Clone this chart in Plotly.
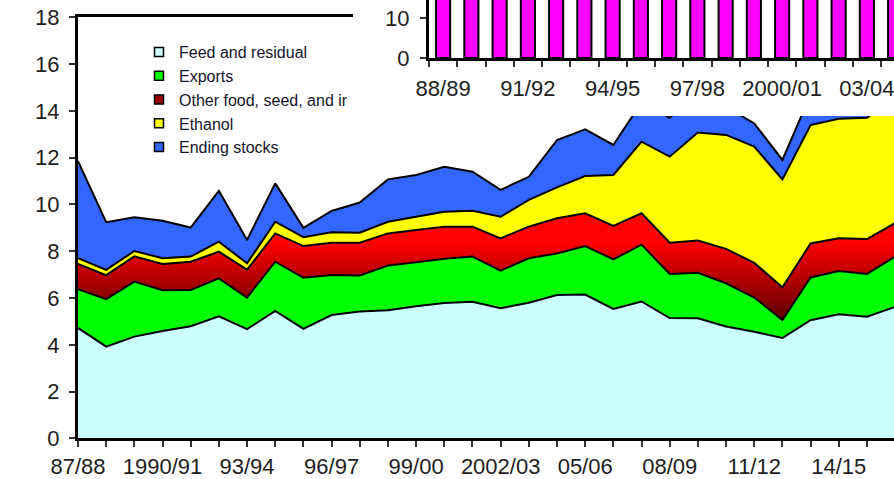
import plotly.graph_objects as go

W, H = 894, 479

# ---------------- data (billion bushels) ----------------
years = ["87/88", "88/89", "89/90", "1990/91", "91/92", "92/93", "93/94", "94/95",
         "95/96", "96/97", "97/98", "98/99", "99/00", "2000/01", "01/02", "2002/03",
         "03/04", "04/05", "05/06", "06/07", "07/08", "08/09", "09/10", "10/11",
         "11/12", "12/13", "13/14", "14/15", "15/16", "16/17"]
tick_labels = ["87/88", "1990/91", "93/94", "96/97", "99/00", "2002/03",
               "05/06", "08/09", "11/12", "14/15"]

feed = [4.72, 3.92, 4.35, 4.59, 4.79, 5.22, 4.67, 5.45, 4.68, 5.27,
        5.42, 5.48, 5.65, 5.79, 5.84, 5.56, 5.80, 6.13, 6.15, 5.53,
        5.85, 5.14, 5.13, 4.78, 4.56, 4.29, 5.05, 5.31, 5.20, 5.62]
exports = [1.66, 2.03, 2.35, 1.74, 1.55, 1.62, 1.35, 2.10, 2.19, 1.71,
           1.54, 1.91, 1.88, 1.89, 1.93, 1.61, 1.90, 1.77, 2.07, 2.12,
           2.43, 1.89, 1.95, 1.85, 1.46, 0.77, 1.83, 1.84, 1.83, 2.15]
other_fsi = [1.08, 1.03, 1.08, 1.12, 1.21, 1.14, 1.19, 1.21, 1.35, 1.38,
             1.40, 1.37, 1.38, 1.37, 1.28, 1.38, 1.35, 1.51, 1.40, 1.43,
             1.34, 1.33, 1.38, 1.47, 1.48, 1.40, 1.45, 1.40, 1.49, 1.43]
ethanol = [0.24, 0.22, 0.23, 0.25, 0.22, 0.43, 0.27, 0.50, 0.38, 0.45,
           0.43, 0.50, 0.56, 0.64, 0.68, 0.92, 1.14, 1.32, 1.59, 2.18,
           3.06, 3.68, 4.61, 4.87, 4.97, 4.61, 5.06, 5.11, 5.18, 5.40]
ending_stocks = [4.15, 2.04, 1.44, 1.60, 1.24, 2.17, 1.00, 1.64, 0.40, 0.91,
                 1.29, 1.81, 1.79, 1.92, 1.67, 1.15, 0.99, 2.02, 2.00, 1.28,
                 1.68, 1.66, 1.70, 1.21, 0.99, 0.83, 1.30, 1.82, 1.70, 2.30]

series_names = ["Feed and residual", "Exports", "Other food, seed, and industrial",
                "Ethanol", "Ending stocks"]
legend_names = ["Feed and residual", "Exports", "Other food, seed, and ir",
                "Ethanol", "Ending stocks"]

# inset chart (mostly hidden above the picture edge)
inset_years = ["88/89", "89/90", "90/91", "91/92", "92/93", "93/94", "94/95", "95/96",
               "96/97", "97/98", "98/99", "99/00", "2000/01", "01/02", "02/03", "03/04",
               "04/05"]
inset_tick_labels = ["88/89", "91/92", "94/95", "97/98", "2000/01", "03/04"]
inset_values = [19, 20, 22, 21, 23, 20, 24, 21, 22, 23, 24, 23, 24, 25, 24, 25, 26]

# ---------------- styling ----------------
fill_colors = ["#CCFFFF", "#00FF00", None, "#FFFF00", "#3366FF"]
legend_colors = ["#CCFFFF", "#00FF00", "#990000", "#FFFF00", "#3366FF"]
FONT = "Liberation Sans, Arial, sans-serif"
TXT = "#1e1e1e"

fig = go.Figure()

for name, vals, col in zip(series_names,
                           [feed, exports, other_fsi, ethanol, ending_stocks],
                           fill_colors):
    kw = {}
    if col is None:
        kw["fillgradient"] = dict(type="vertical",
                                  colorscale=[[0, "#5a0000"], [1, "#FF0000"]],
                                  start=5.0, stop=8.4)
    else:
        kw["fillcolor"] = col
    fig.add_trace(go.Scatter(
        x=years, y=vals, name=name, stackgroup="one", mode="lines",
        line=dict(color="black", width=2), showlegend=False,
        xaxis="x", yaxis="y", **kw))

# legend entries (small squares like the original)
for name, col in zip(legend_names, legend_colors):
    fig.add_trace(go.Scatter(
        x=[None], y=[None], mode="markers", name=name,
        marker=dict(symbol="square", size=9, color=col,
                    line=dict(color="black", width=1.5)),
        xaxis="x", yaxis="y", hoverinfo="skip"))

# white mask of the pasted inset
fig.add_trace(go.Scatter(x=[None], y=[None], xaxis="x2", yaxis="y2",
                         showlegend=False, hoverinfo="skip"))

# inset bar chart
fig.add_trace(go.Bar(
    x=inset_years, y=inset_values, xaxis="x3", yaxis="y3", showlegend=False,
    marker=dict(color="#FF00FF", line=dict(color="black", width=2))))

main_ticktext = [y if y in tick_labels else "" for y in years]
inset_ticktext = [y if y in inset_tick_labels else "" for y in inset_years]

axis_common = dict(showgrid=False, zeroline=False, showline=True,
                   linecolor="black", linewidth=3, ticks="outside",
                   ticklen=6, tickwidth=1.5, tickcolor="#333", tickangle=0,
                   automargin=False,
                   tickfont=dict(family=FONT, size=22, color=TXT))

fig.update_layout(
    width=W, height=H,
    margin=dict(l=0, r=0, t=0, b=0, autoexpand=False),
    paper_bgcolor="white", plot_bgcolor="white",
    font=dict(family=FONT, size=16, color=TXT),
    bargap=0.5,
    showlegend=True,
    legend=dict(x=139 / W, y=1 - 35 / H, xanchor="left", yanchor="top",
                font=dict(family=FONT, size=16, color="#14142a"),
                bgcolor="rgba(0,0,0,0)", traceorder="normal"),
    xaxis=dict(domain=[78 / W, 1], anchor="y", type="category",
               range=[0, 28.96], tickmode="array", tickvals=years,
               ticktext=main_ticktext, mirror=True, **axis_common),
    yaxis=dict(domain=[1 - 438.4 / H, 1 - 17.2 / H], anchor="x",
               range=[0, 18], tick0=0, dtick=2, ticklabelstandoff=5,
               **axis_common),
    xaxis2=dict(domain=[353 / W, 1], anchor="y2", visible=False,
                range=[0, 1]),
    yaxis2=dict(domain=[1 - 116 / H, 1], anchor="x2", visible=False,
                range=[0, 1]),
    xaxis3=dict(domain=[429 / W, 1], anchor="y3", type="category",
                range=[-0.5, 15.96], tickmode="array", tickvals=inset_years,
                ticktext=inset_ticktext, tickson="boundaries",
                ticklabelstandoff=9, **axis_common),
    yaxis3=dict(domain=[1 - 58 / H, 1], anchor="x3", range=[0, 14.5],
                tickmode="array", tickvals=[0, 10], ticklabelstandoff=6,
                **axis_common),
)

fig.write_html("out.html",
               config={"displayModeBar": False},
               post_script="document.body.style.margin='0';"
                           "document.body.style.overflow='hidden';")
